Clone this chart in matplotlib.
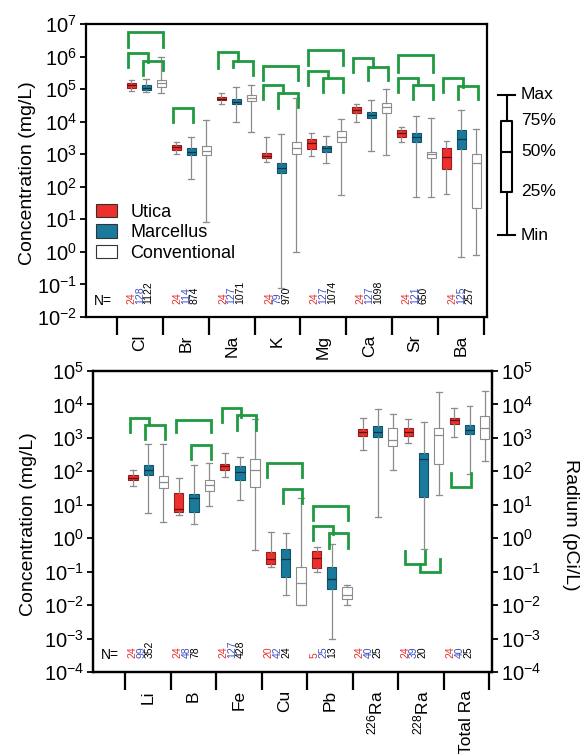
import numpy as np
import matplotlib.pyplot as plt
from matplotlib.patches import Patch
from matplotlib.ticker import NullLocator
from matplotlib.transforms import blended_transform_factory

plt.rcParams['font.family'] = ['Liberation Sans', 'DejaVu Sans']
plt.rcParams['mathtext.fontset'] = 'custom'
plt.rcParams['mathtext.rm'] = 'Liberation Sans'
plt.rcParams['mathtext.it'] = 'Liberation Sans:italic'
plt.rcParams['mathtext.bf'] = 'Liberation Sans:bold'

RED = '#ee2f2c'
BLUE = '#1a7a9b'
GREEN = '#1f9a40'
GREY = '#8c8c8c'
N_COLORS = ['#e8302c', '#3d4fc4', 'black']

SERIES = ['Utica', 'Marcellus', 'Conventional']

# ---- upper panel: major ions, log10(mg/L) as [min, 25%, median, 75%, max]
top_cats = ['Cl', 'Br', 'Na', 'K', 'Mg', 'Ca', 'Sr', 'Ba']
top_utica = [[4.95, 5.04, 5.12, 5.20, 5.28], [3.00, 3.13, 3.21, 3.28, 3.39],
             [4.53, 4.67, 4.71, 4.75, 4.89], [2.75, 2.88, 2.96, 3.03, 3.52],
             [2.96, 3.15, 3.34, 3.46, 3.64], [3.98, 4.26, 4.36, 4.44, 4.53],
             [3.39, 3.54, 3.66, 3.74, 3.83], [1.78, 2.54, 2.91, 3.20, 3.42]]
top_marcellus = [[4.90, 4.97, 5.04, 5.13, 5.30], [2.24, 2.98, 3.08, 3.18, 3.54],
                 [3.99, 4.54, 4.61, 4.69, 5.07], [-1.12, 2.43, 2.57, 2.74, 3.61],
                 [2.74, 3.08, 3.18, 3.26, 3.57], [3.10, 4.10, 4.21, 4.29, 4.67],
                 [1.68, 3.37, 3.52, 3.66, 4.18], [-0.15, 3.16, 3.46, 3.74, 4.36]]
top_conventional = [[4.89, 5.07, 5.18, 5.28, 5.99], [0.91, 2.98, 3.11, 3.26, 4.05],
                    [3.69, 4.64, 4.74, 4.82, 5.13], [0.00, 3.00, 3.18, 3.39, 4.74],
                    [1.75, 3.37, 3.54, 3.72, 4.08], [2.97, 4.28, 4.44, 4.56, 5.00],
                    [1.68, 2.88, 3.00, 3.08, 4.12], [-0.09, 1.36, 2.74, 3.00, 3.77]]
top_n = [(24, 128, 1122), (24, 114, 874), (24, 127, 1071), (24, 79, 970),
         (24, 127, 1074), (24, 127, 1098), (24, 121, 650), (24, 125, 257)]
# significant pairs: (category, series a, series b, bar level, left leg end, right leg end)
top_pairs = [(0, 0, 2, 6.76, 6.30, 6.30), (0, 0, 1, 6.12, 5.69, 5.84), (0, 1, 2, 5.87, 5.43, 5.59),
             (1, 0, 1, 4.43, 4.00, 4.00),
             (2, 0, 1, 6.15, 5.66, 5.86), (2, 1, 2, 5.86, 5.69, 5.43),
             (3, 0, 2, 5.72, 5.28, 5.28), (3, 0, 1, 5.13, 4.70, 4.87), (3, 1, 2, 4.89, 4.42, 4.46),
             (4, 0, 2, 6.20, 5.74, 5.74), (4, 0, 1, 5.57, 5.13, 5.33), (4, 1, 2, 5.33, 4.90, 4.90),
             (5, 0, 1, 5.95, 5.54, 5.69), (5, 1, 2, 5.69, 5.28, 5.28),
             (6, 0, 2, 6.05, 5.54, 5.54), (6, 0, 1, 5.35, 4.92, 5.13), (6, 1, 2, 5.13, 4.69, 4.69),
             (7, 0, 1, 5.33, 4.90, 5.07), (7, 1, 2, 5.10, 4.69, 4.69)]

# ---- lower panel: trace elements (mg/L) and radium (pCi/L)
bot_cats = ['Li', 'B', 'Fe', 'Cu', 'Pb', r'$^{226}$Ra', r'$^{228}$Ra', 'Total Ra']
bot_utica = [[1.55, 1.73, 1.81, 1.88, 2.03], [0.69, 0.79, 0.86, 1.36, 1.80],
             [1.83, 2.03, 2.15, 2.23, 2.56], [-0.87, -0.76, -0.61, -0.41, 0.19],
             [-1.01, -0.90, -0.59, -0.39, -0.26], [2.63, 3.07, 3.17, 3.27, 3.60],
             [2.84, 3.07, 3.19, 3.29, 3.55], [3.04, 3.42, 3.52, 3.59, 3.89]]
bot_marcellus = [[0.76, 1.88, 2.03, 2.20, 2.81], [0.42, 0.79, 1.21, 1.31, 2.18],
                 [1.13, 1.73, 1.98, 2.16, 2.43], [-1.70, -1.16, -0.61, -0.33, 0.17],
                 [-3.00, -1.52, -1.22, -0.86, -0.18], [0.62, 3.04, 3.17, 3.37, 3.87],
                 [-0.31, 1.23, 2.38, 2.56, 3.49], [1.93, 3.13, 3.25, 3.39, 3.94]]
bot_conventional = [[0.49, 1.51, 1.68, 1.85, 2.81], [0.96, 1.41, 1.58, 1.73, 2.26],
                    [-0.36, 1.53, 2.05, 2.38, 3.57], [-2.00, -2.00, -1.35, -0.86, 1.19],
                    [-2.00, -1.83, -1.70, -1.47, -1.40], [2.05, 2.75, 2.93, 3.29, 3.72],
                    [1.28, 2.23, 3.10, 3.30, 4.37], [2.31, 2.98, 3.30, 3.64, 4.40]]
bot_n = [(24, 99, 352), (24, 48, 78), (24, 127, 428), (20, 42, 24),
         (5, 25, 13), (24, 40, 25), (24, 39, 20), (24, 40, 25)]
bot_pairs = [(0, 0, 1, 3.60, 3.17, 3.42), (0, 1, 2, 3.39, 2.96, 2.96),
             (1, 0, 2, 3.54, 3.17, 3.17), (1, 1, 2, 2.78, 2.36, 2.36),
             (2, 0, 1, 3.90, 3.47, 3.62), (2, 1, 2, 3.69, 3.24, 3.24),
             (3, 0, 2, 2.25, 1.83, 1.83), (3, 1, 2, 1.46, 1.04, 1.04),
             (4, 0, 2, 0.96, 0.54, 0.54), (4, 0, 1, 0.38, -0.04, 0.14), (4, 1, 2, 0.16, -0.28, -0.28),
             (6, 0, 1, -0.78, -0.38, -0.38), (6, 1, 2, -1.02, -0.78, -0.61),
             (7, 0, 1, 1.53, 1.95, 1.95)]

OFFSETS = [-0.33, 0.0, 0.33]
STYLES = [dict(face=RED, edge='#9a1d1b', med='#5a1010'),
          dict(face=BLUE, edge='#10536a', med='#0b3544'),
          dict(face='white', edge=GREY, med=GREY)]


def draw_panel(ax, cats, groups, counts, pairs, seps, xlim, ylim, n_shift):
    for j, data in enumerate(groups):
        st = STYLES[j]
        stats = [dict(whislo=10 ** d[0], q1=10 ** d[1], med=10 ** d[2],
                      q3=10 ** d[3], whishi=10 ** d[4], fliers=[]) for d in data]
        pos = np.arange(len(cats)) + OFFSETS[j]
        ax.bxp(stats, positions=pos, widths=0.2, capwidths=0.13, patch_artist=True,
               showfliers=False, manage_ticks=False,
               boxprops=dict(facecolor=st['face'], edgecolor=st['edge'], linewidth=0.8),
               whiskerprops=dict(color=GREY, linewidth=0.9),
               capprops=dict(color=GREY, linewidth=0.9),
               medianprops=dict(color=st['med'], linewidth=0.9))

    for c, a, b, lev, le, re in pairs:
        xl = c + OFFSETS[a] - 0.07
        xr = c + OFFSETS[b] + 0.03
        ax.plot([xl, xl, xr, xr], [10 ** le, 10 ** lev, 10 ** lev, 10 ** re],
                color=GREEN, lw=2.0, solid_joinstyle='miter', zorder=4)

    ax.set_yscale('log')
    ax.set_ylim(10.0 ** ylim[0], 10.0 ** ylim[1])
    ax.set_yticks(10.0 ** np.arange(ylim[0], ylim[1] + 1))
    ax.yaxis.set_minor_locator(NullLocator())
    ax.set_xlim(*xlim)

    mids = (seps[:-1] + seps[1:]) / 2
    ax.set_xticks(seps)
    ax.set_xticklabels([''] * len(seps))
    ax.set_xticks(mids, minor=True)
    ax.set_xticklabels(cats, minor=True, rotation=90, va='top', fontsize=12.5)
    ax.tick_params(axis='x', which='major', direction='out', length=13, width=1.6)
    ax.tick_params(axis='x', which='minor', length=0, pad=13)
    ax.tick_params(axis='y', direction='out', length=4.5, width=1.3, labelsize=14.5, pad=2)
    for s in ax.spines.values():
        s.set_linewidth(1.6)

    tr = blended_transform_factory(ax.transData, ax.transAxes)
    for i, ns in enumerate(counts):
        for j, n in enumerate(ns):
            ax.text(mids[i] + n_shift + (j - 1) * 0.19, 0.045, str(n), transform=tr,
                    rotation=90, ha='center', va='bottom', fontsize=7.5, color=N_COLORS[j])
    ax.text(0.02, 0.055, 'N=', transform=ax.transAxes, ha='left', va='center', fontsize=10)


fig = plt.figure(figsize=(5.81, 7.54), dpi=100)
W, H = 581, 754

ax1 = fig.add_axes([86 / W, 1 - 317 / H, 401 / W, 293 / H])
draw_panel(ax1, top_cats, [top_utica, top_marcellus, top_conventional], top_n, top_pairs,
           np.linspace(-0.65, 7.5, 9), (-1.34, 7.57), (-2, 7), 0.0)
ax1.set_ylabel('Concentration (mg/L)', fontsize=14)
ax1.yaxis.set_label_coords(-0.125, 0.49)

handles = [Patch(facecolor=STYLES[j]['face'], edgecolor='#333333', linewidth=0.8)
           for j in range(3)]
ax1.legend(handles, SERIES, loc='center left', bbox_to_anchor=(0.025, 0.287),
           frameon=False, fontsize=13, handlelength=1.15, handleheight=0.75,
           handletextpad=0.75, labelspacing=0.2, borderpad=0, borderaxespad=0)

ax2 = fig.add_axes([93 / W, 1 - 672 / H, 399 / W, 301 / H])
draw_panel(ax2, bot_cats, [bot_utica, bot_marcellus, bot_conventional], bot_n, bot_pairs,
           np.linspace(-0.5, 7.43, 9), (-1.2, 7.49), (-4, 5), -0.15)
ax2.set_ylabel('Concentration (mg/L)', fontsize=14)
ax2.yaxis.set_label_coords(-0.14, 0.49)

ax2r = ax2.twinx()
ax2r.set_yscale('log')
ax2r.set_ylim(ax2.get_ylim())
ax2r.set_yticks(10.0 ** np.arange(-4, 6))
ax2r.yaxis.set_minor_locator(NullLocator())
ax2r.tick_params(axis='y', direction='out', length=4.5, width=1.3, labelsize=14.5, pad=2)
ax2r.set_ylabel('Radium (pCi/L)', fontsize=14, rotation=270, va='bottom')
ax2r.yaxis.set_label_coords(1.175, 0.49)
for s in ax2r.spines.values():
    s.set_linewidth(1.6)

# box-plot key
axk = fig.add_axes([490 / W, 1 - 245 / H, 91 / W, 160 / H])
axk.axis('off')
axk.set_xlim(0, 1)
axk.set_ylim(-0.071, 1.071)
key_levels = [0.0, 0.31, 0.595, 0.817, 1.0]
key_labels = ['Min', '25%', '50%', '75%', 'Max']
axk.bxp([dict(whislo=key_levels[0], q1=key_levels[1], med=key_levels[2],
              q3=key_levels[3], whishi=key_levels[4], fliers=[])],
        positions=[0.183], widths=0.128, capwidths=0.19, showfliers=False,
        manage_ticks=False,
        boxprops=dict(color='black', linewidth=1.5),
        whiskerprops=dict(color='black', linewidth=1.5),
        capprops=dict(color='black', linewidth=1.5),
        medianprops=dict(color='black', linewidth=1.5))
for lev, lab in zip(key_levels, key_labels):
    axk.text(0.34, lev, lab, ha='left', va='center', fontsize=12.5)

fig.savefig('out.png', dpi=100)
